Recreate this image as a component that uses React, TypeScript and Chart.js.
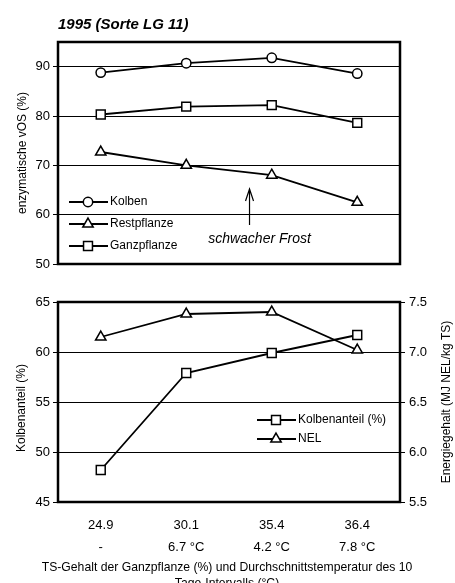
import React, { useEffect, useRef } from 'react';
import { Chart, registerables } from 'chart.js';

Chart.register(...registerables);

const FONT = "'Liberation Sans', Arial, Helvetica, sans-serif";

const TITLE = '1995 (Sorte LG 11)';
const CATEGORIES = ['24.9', '30.1', '35.4', '36.4'];
const TEMPERATURES = ['-', '6.7 °C', '4.2 °C', '7.8 °C'];

const KOLBEN = [88.8, 90.7, 91.8, 88.6];
const RESTPFLANZE = [72.7, 70.0, 68.0, 62.5];
const GANZPFLANZE = [80.3, 81.9, 82.2, 78.6];
const TOP_Y_TICKS = [50, 60, 70, 80, 90];

const KOLBENANTEIL = [48.2, 57.9, 59.9, 61.7];
const NEL = [7.15, 7.38, 7.4, 7.02];
const LEFT_Y_TICKS = [45, 50, 55, 60, 65];
const RIGHT_Y_TICKS = [5.5, 6.0, 6.5, 7.0, 7.5];

const TOP_Y_TITLE = 'enzymatische vOS (%)';
const BOTTOM_Y_TITLE = 'Kolbenanteil (%)';
const RIGHT_Y_TITLE = 'Energiegehalt (MJ NEL/kg TS)';
const X_TITLE = ['TS-Gehalt der Ganzpflanze (%) und Durchschnittstemperatur des 10', 'Tage-Intervalls (°C)'];
const ANNOTATION = 'schwacher Frost';
const FROST_AT = 1.74;

function drawMarker(ctx: CanvasRenderingContext2D, style: string, x: number, y: number, r: number) {
  ctx.save();
  ctx.beginPath();
  if (style === 'circle') {
    ctx.arc(x, y, r, 0, Math.PI * 2);
  } else if (style === 'rect') {
    const s = r * Math.SQRT1_2;
    ctx.rect(x - s, y - s, 2 * s, 2 * s);
  } else {
    let a = 0;
    ctx.moveTo(x + Math.sin(a) * r, y - Math.cos(a) * r);
    a += (2 * Math.PI) / 3;
    ctx.lineTo(x + Math.sin(a) * r, y - Math.cos(a) * r);
    a += (2 * Math.PI) / 3;
    ctx.lineTo(x + Math.sin(a) * r, y - Math.cos(a) * r);
    ctx.closePath();
  }
  ctx.fillStyle = '#fff';
  ctx.fill();
  ctx.strokeStyle = '#000';
  ctx.lineWidth = 1.5;
  ctx.stroke();
  ctx.restore();
}

function drawLegend(ctx: CanvasRenderingContext2D, chart: any, x0: number, y0: number, rowH: number) {
  chart.data.datasets.forEach((ds: any, i: number) => {
    const y = y0 + i * rowH;
    ctx.save();
    ctx.strokeStyle = '#000';
    ctx.lineWidth = 1.8;
    ctx.beginPath();
    ctx.moveTo(x0, y);
    ctx.lineTo(x0 + 39, y);
    ctx.stroke();
    ctx.restore();
    drawMarker(ctx, ds.pointStyle, x0 + 19, y, ds.pointRadius);
    ctx.save();
    ctx.fillStyle = '#000';
    ctx.font = `12px ${FONT}`;
    ctx.textAlign = 'left';
    ctx.textBaseline = 'middle';
    ctx.fillText(ds.label, x0 + 41, y);
    ctx.restore();
  });
}

function drawFrame(ctx: CanvasRenderingContext2D, a: any) {
  ctx.save();
  ctx.strokeStyle = '#000';
  ctx.lineWidth = 2.5;
  ctx.strokeRect(a.left, a.top, a.right - a.left, a.bottom - a.top);
  ctx.restore();
}

function rotatedText(ctx: CanvasRenderingContext2D, text: string, x: number, y: number) {
  ctx.save();
  ctx.translate(x, y);
  ctx.rotate(-Math.PI / 2);
  ctx.fillStyle = '#000';
  ctx.font = `12px ${FONT}`;
  ctx.textAlign = 'center';
  ctx.textBaseline = 'middle';
  ctx.fillText(text, 0, 0);
  ctx.restore();
}

const topDecor = {
  id: 'topDecor',
  beforeDatasetsDraw(chart: any) {
    drawFrame(chart.ctx, chart.chartArea);
  },
  afterDraw(chart: any) {
    const ctx = chart.ctx as CanvasRenderingContext2D;
    const a = chart.chartArea;
    ctx.save();
    ctx.fillStyle = '#000';
    ctx.font = `italic bold 15px ${FONT}`;
    ctx.textAlign = 'left';
    ctx.textBaseline = 'middle';
    ctx.fillText(TITLE, a.left, 25);
    ctx.restore();
    rotatedText(ctx, TOP_Y_TITLE, 23, (a.top + a.bottom) / 2);
    drawLegend(ctx, chart, 69, 202, 22);
    // annotation
    const ax = chart.scales.x.getPixelForValue(FROST_AT);
    ctx.save();
    ctx.strokeStyle = '#000';
    ctx.lineWidth = 1.2;
    ctx.beginPath();
    ctx.moveTo(ax, 225);
    ctx.lineTo(ax, 189);
    ctx.moveTo(ax - 4, 201);
    ctx.lineTo(ax, 189);
    ctx.lineTo(ax + 4, 201);
    ctx.stroke();
    ctx.fillStyle = '#000';
    ctx.font = `italic 14px ${FONT}`;
    ctx.textAlign = 'center';
    ctx.textBaseline = 'middle';
    ctx.fillText(ANNOTATION, ax + 10, 239);
    ctx.restore();
  },
};

const bottomDecor = {
  id: 'bottomDecor',
  beforeDatasetsDraw(chart: any) {
    drawFrame(chart.ctx, chart.chartArea);
  },
  afterDraw(chart: any) {
    const ctx = chart.ctx as CanvasRenderingContext2D;
    const a = chart.chartArea;
    rotatedText(ctx, BOTTOM_Y_TITLE, 22, 128);
    rotatedText(ctx, RIGHT_Y_TITLE, 447, (a.top + a.bottom) / 2);
    drawLegend(ctx, chart, 257, 140, 19);
    ctx.save();
    ctx.fillStyle = '#000';
    ctx.font = `12.2px ${FONT}`;
    ctx.textAlign = 'center';
    ctx.textBaseline = 'middle';
    X_TITLE.forEach((t, i) => ctx.fillText(t, 227, 288 + i * 16));
    ctx.restore();
  },
};

const tickFont = { size: 13, family: FONT };

function lineDs(label: string, data: number[], style: string, r: number, axis?: string) {
  const ds: any = {
    label,
    data,
    borderColor: '#000',
    borderWidth: 1.8,
    pointStyle: style,
    pointRadius: r,
    pointBackgroundColor: '#fff',
    pointBorderColor: '#000',
    pointBorderWidth: 1.5,
    tension: 0,
  };
  if (axis) ds.yAxisID = axis;
  return ds;
}

export default function App() {
  const topRef = useRef<HTMLCanvasElement>(null);
  const bottomRef = useRef<HTMLCanvasElement>(null);

  useEffect(() => {
    const top = new Chart(topRef.current as HTMLCanvasElement, {
      type: 'line',
      data: {
        labels: CATEGORIES,
        datasets: [
          lineDs('Kolben', KOLBEN, 'circle', 4.7),
          lineDs('Restpflanze', RESTPFLANZE, 'triangle', 6),
          lineDs('Ganzpflanze', GANZPFLANZE, 'rect', 6.3),
        ],
      },
      options: {
        responsive: false,
        animation: false,
        devicePixelRatio: 1,
        layout: { padding: { top: 42, right: 55, bottom: 16, left: 0 } },
        plugins: { legend: { display: false }, tooltip: { enabled: false }, title: { display: false } },
        scales: {
          x: { display: false, offset: true },
          y: {
            min: 50,
            max: 95,
            afterBuildTicks: (s: any) => {
              s.ticks = TOP_Y_TICKS.map((v) => ({ value: v }));
            },
            afterFit: (s: any) => {
              s.width = 58;
            },
            grid: { color: '#000', lineWidth: 1, tickLength: 5 },
            border: { display: false },
            ticks: { color: '#000', font: tickFont, padding: 3 },
          },
        },
      },
      plugins: [topDecor],
    } as any);

    const bottom = new Chart(bottomRef.current as HTMLCanvasElement, {
      type: 'line',
      data: {
        labels: CATEGORIES,
        datasets: [
          lineDs('Kolbenanteil (%)', KOLBENANTEIL, 'rect', 6.3, 'y'),
          lineDs('NEL', NEL, 'triangle', 6, 'y1'),
        ],
      },
      options: {
        responsive: false,
        animation: false,
        devicePixelRatio: 1,
        layout: { padding: { top: 22, right: 0, bottom: 0, left: 0 } },
        plugins: { legend: { display: false }, tooltip: { enabled: false }, title: { display: false } },
        scales: {
          x: {
            offset: true,
            grid: { display: false, drawTicks: false },
            border: { display: false },
            afterFit: (s: any) => {
              s.height = 81;
            },
            ticks: {
              color: '#000',
              font: { size: 13, family: FONT, lineHeight: 1.7 },
              padding: 12,
              maxRotation: 0,
              autoSkip: false,
              callback: (_v: any, i: number) => [CATEGORIES[i], TEMPERATURES[i]],
            },
          },
          y: {
            position: 'left',
            min: 45,
            max: 65,
            afterBuildTicks: (s: any) => {
              s.ticks = LEFT_Y_TICKS.map((v) => ({ value: v }));
            },
            afterFit: (s: any) => {
              s.width = 58;
            },
            grid: { color: '#000', lineWidth: 1, tickLength: 5 },
            border: { display: false },
            ticks: { color: '#000', font: tickFont, padding: 3 },
          },
          y1: {
            position: 'right',
            min: 5.5,
            max: 7.5,
            afterBuildTicks: (s: any) => {
              s.ticks = RIGHT_Y_TICKS.map((v) => ({ value: v }));
            },
            afterFit: (s: any) => {
              s.width = 55;
            },
            grid: { color: '#000', lineWidth: 1, tickLength: 5, drawOnChartArea: false },
            border: { display: false },
            ticks: {
              color: '#000',
              font: tickFont,
              padding: 4,
              callback: (v: any) => Number(v).toFixed(1),
            },
          },
        },
      },
      plugins: [bottomDecor],
    } as any);

    return () => {
      top.destroy();
      bottom.destroy();
    };
  }, []);

  return (
    <div style={{ position: 'fixed', left: 0, top: 0, width: 455, height: 583, background: '#fff', overflow: 'hidden' }}>
      <canvas ref={topRef} width={455} height={280} style={{ position: 'absolute', left: 0, top: 0, width: 455, height: 280 }} />
      <canvas ref={bottomRef} width={455} height={303} style={{ position: 'absolute', left: 0, top: 280, width: 455, height: 303 }} />
    </div>
  );
}
